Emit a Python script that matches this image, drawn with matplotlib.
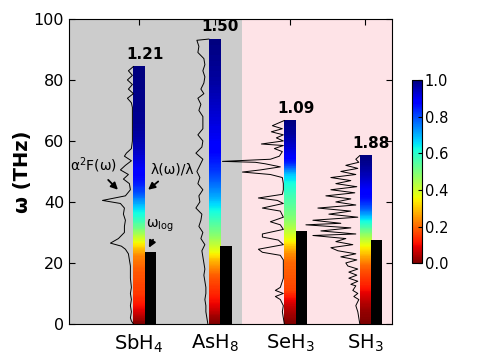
import numpy as np
import matplotlib
matplotlib.use('Agg')
import matplotlib.pyplot as plt
from matplotlib.colors import Normalize
from matplotlib.cm import ScalarMappable

# ---------------- data ----------------
materials = ['SbH$_4$', 'AsH$_8$', 'SeH$_3$', 'SH$_3$']
lambda_labels = ['1.21', '1.50', '1.09', '1.88']
omega_max = [84.4, 93.4, 66.7, 55.2]
omega_log = [23.5, 25.7, 30.6, 27.6]

# Eliashberg spectral functions alpha^2F(omega) (arbitrary units)
sbh4_w = [84.4, 83, 81.5, 80, 78.5, 77, 75.5, 74, 72.5, 71, 65, 60, 57.5, 56, 55, 53.5, 52, 50.5, 49, 47.5,
          46, 44, 42, 40.5, 39.5, 38, 36, 34, 32, 30, 28, 26.5, 25.5, 24.5, 23, 21, 19, 17, 15, 12,
          10, 8, 6, 4, 2, 1, 0]
sbh4_a2f = [0, 5, 1, 6, 1, 5, 0, 6, 2, 1, 1, 1, 2, 7, 9, 2, 8, 13, 5, 10,
            4, 3, 8, 31, 13, 9, 10, 8, 9, 9, 15, 23, 12, 8, 5, 4, 3, 3, 3, 2,
            3, 2, 3, 2, 3, 2, 0]

ash8_w = [93.4, 93, 91, 89, 87, 85, 83, 81, 79, 77, 75.5, 74, 72, 70, 68, 66, 64, 62, 60, 58,
          56, 54, 52, 50, 48, 46, 44, 42, 40, 38, 36, 34, 32, 30, 28, 26, 24, 22, 20, 18,
          16, 14, 12, 10, 8, 6, 4, 2, 0]
ash8_a2f = [0, 12, 10, 11, 5, 4, 6, 4, 5, 8, 5, 11, 8, 10, 6, 6, 6, 11, 6, 7,
            13, 6, 9, 12, 9, 11, 6, 10, 9, 13, 7, 8, 10, 6, 8, 4, 7, 6, 5, 4,
            5, 4, 3, 3, 4, 3, 3, 2, 1]

seh3_w = [66.7, 65, 64, 63, 62, 61, 60, 59, 58.5, 57.5, 56.5, 55, 54, 53.3, 53, 52.5, 51.5, 50.5, 49.8, 49,
          48, 46, 44, 42.5, 41.3, 40.5, 39.5, 38, 37, 35, 33.5, 32.5, 31, 29.5, 28.5, 27.5, 26, 24.5, 23.5, 22.5,
          21, 18, 15, 12, 11, 10, 9, 8, 6, 4, 2, 0]
seh3_a2f = [0, 12, 2, 13, 1, 8, 1, 23, 1, 10, 2, 5, 14, 62, 29, 19, 4, 24, 42, 14,
            2, 1, 1, 2, 26, 7, 1, 22, 4, 1, 14, 4, 1, 22, 22, 6, 1, 26, 22, 4,
            1, 1, 1, 4, 9, 1, 9, 4, 1, 2, 1, 0]

sh3_w = [55.2, 54, 53, 52, 51, 50, 49, 48, 47, 46, 45, 44, 43, 42, 41, 40, 39, 38, 37, 36,
         35, 34, 33, 32.5, 31.5, 30.5, 29.5, 29, 28, 27, 26, 25, 24, 23, 22, 21, 20, 19, 18, 17,
         16, 15, 14, 13, 12.5, 11, 10, 9, 8, 6, 4, 2, 0]
sh3_a2f = [0, 4, 1, 14, 2, 19, 4, 29, 9, 24, 3, 29, 5, 34, 9, 24, 4, 42, 9, 31,
           2, 47, 19, 54, 9, 39, 4, 47, 14, 24, 7, 29, 22, 4, 19, 3, 14, 12, 2, 11,
           3, 11, 2, 9, 4, 7, 2, 6, 1, 4, 2, 1, 0]

# cumulative lambda(omega)/lambda profiles
sbh4_lw = [0, 2, 4, 6, 8, 10, 14, 18, 22, 24, 26, 28, 31, 34, 37, 40, 43, 47, 52, 58, 65, 75, 84.4]
sbh4_lf = [0.0, 0.04, 0.08, 0.11, 0.13, 0.15, 0.17, 0.19, 0.23, 0.28, 0.34, 0.40, 0.50, 0.58, 0.64, 0.72,
           0.80, 0.86, 0.90, 0.95, 0.98, 0.99, 1.0]
ash8_lw = [0, 3, 6, 9, 13, 16, 19, 22, 24, 27, 30, 34, 38, 42, 46, 50, 56, 62, 70, 80, 93.4]
ash8_lf = [0.0, 0.04, 0.09, 0.12, 0.16, 0.19, 0.25, 0.32, 0.37, 0.44, 0.50, 0.57, 0.64, 0.71, 0.77, 0.82,
           0.87, 0.90, 0.93, 0.97, 1.0]
seh3_lw = [0, 4, 7, 9, 11, 15, 20, 23, 25, 27, 30, 34, 38, 42, 46, 49, 51, 53, 55, 59, 62, 66.7]
seh3_lf = [0.0, 0.04, 0.08, 0.12, 0.16, 0.18, 0.20, 0.24, 0.29, 0.35, 0.41, 0.48, 0.53, 0.57, 0.62, 0.68,
           0.77, 0.85, 0.89, 0.94, 0.97, 1.0]
sh3_lw = [0, 4, 7, 10, 13, 16, 19, 22, 24, 26, 28, 30, 32, 34, 36, 38, 41, 45, 48, 52, 55.2]
sh3_lf = [0.0, 0.02, 0.05, 0.09, 0.13, 0.16, 0.20, 0.27, 0.32, 0.37, 0.43, 0.50, 0.57, 0.64, 0.72, 0.79,
          0.86, 0.90, 0.94, 0.98, 1.0]

a2f_w = [sbh4_w, ash8_w, seh3_w, sh3_w]
a2f_v = [sbh4_a2f, ash8_a2f, seh3_a2f, sh3_a2f]
lam_w = [sbh4_lw, ash8_lw, seh3_lw, sh3_lw]
lam_f = [sbh4_lf, ash8_lf, seh3_lf, sh3_lf]

# ---------------- figure ----------------
fig = plt.figure(figsize=(4.85, 3.64), dpi=100)
ax = fig.add_axes([0.142, 0.110, 0.666, 0.838])

xlo, xhi = -0.93, 3.35
split = 1.36
ax.axvspan(xlo, split, color='#cccccc', zorder=0, lw=0)
ax.axvspan(split, xhi, color='#fee3e7', zorder=0, lw=0)

bw = 0.15
scale = 1 / 75.6
cmap = plt.get_cmap('jet_r')
for i in range(4):
    left = i - bw / 2
    # colored lambda bar
    grid = np.linspace(0, omega_max[i], 300)
    vals = np.interp(grid, lam_w[i], lam_f[i])
    ax.imshow(vals[:, None], cmap=cmap, vmin=0, vmax=1, origin='lower', aspect='auto',
              extent=[left, left + bw, 0, omega_max[i]], zorder=2, interpolation='nearest')
    # omega_log bar
    ax.bar(i + bw / 2, omega_log[i], width=bw, align='edge', color='black', zorder=2)
    # alpha^2F curve
    w = np.array(a2f_w[i])
    a = np.array(a2f_v[i])
    ax.plot(left - a * scale, w, color='black', lw=0.7, zorder=3)
    # lambda label
    ax.text(i + bw / 2, omega_max[i] + 1.5, lambda_labels[i], ha='center', va='bottom',
            fontsize=11, fontweight='bold', zorder=4)

ax.set_xlim(xlo, xhi)
ax.set_ylim(0, 100)
ax.set_xticks(range(4))
ax.set_xticklabels(materials, fontsize=14)
ax.set_yticks([0, 20, 40, 60, 80, 100])
ax.tick_params(axis='y', labelsize=11.5)
ax.tick_params(direction='in', top=True, right=True, length=4, width=0.8)
ax.tick_params(axis='x', pad=6)
ax.set_ylabel('ω (THz)', fontsize=14, fontweight='bold', labelpad=1)

# annotations
ax.annotate('α$^{2}$F(ω)', xy=(-0.28, 44.0), xytext=(-0.60, 52.0), fontsize=10,
            ha='center', va='center', zorder=5,
            arrowprops=dict(arrowstyle='-|>', color='black', lw=1.3, mutation_scale=10,
                            shrinkA=2, shrinkB=0))
ax.annotate('λ(ω)/λ', xy=(0.12, 44.0), xytext=(0.44, 50.5), fontsize=10,
            ha='center', va='center', zorder=5,
            arrowprops=dict(arrowstyle='-|>', color='black', lw=1.3, mutation_scale=10,
                            shrinkA=2, shrinkB=0))
ax.annotate(r'ω$_{\mathrm{log}}$', xy=(0.13, 25.0), xytext=(0.28, 32.0), fontsize=10,
            ha='center', va='center', zorder=5,
            arrowprops=dict(arrowstyle='-|>', color='black', lw=1.3, mutation_scale=10,
                            shrinkA=2, shrinkB=0))

# colorbar
cax = fig.add_axes([0.849, 0.277, 0.0206, 0.503])
sm = ScalarMappable(norm=Normalize(0, 1), cmap=cmap)
cb = fig.colorbar(sm, cax=cax, ticks=[0, 0.2, 0.4, 0.6, 0.8, 1.0])
cb.ax.tick_params(labelsize=10.5, direction='in', length=3, pad=2)
cb.ax.set_yticklabels(['0.0', '0.2', '0.4', '0.6', '0.8', '1.0'])

fig.savefig('out.png', dpi=100)
